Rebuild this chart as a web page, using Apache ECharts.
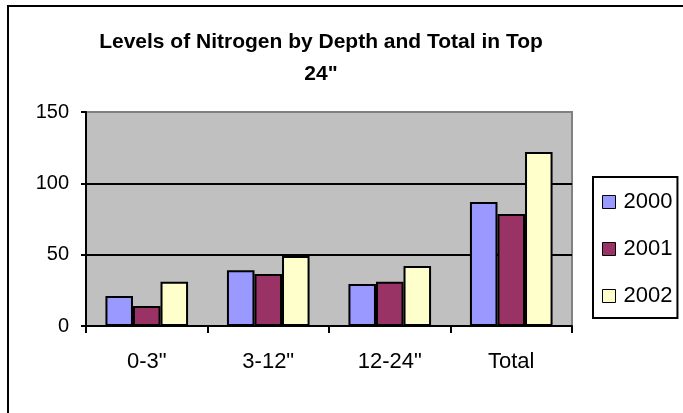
<!DOCTYPE html>
<html>
<head>
<meta charset="utf-8">
<script src="https://cdn.jsdelivr.net/npm/echarts@6/dist/echarts.min.js"></script>
<style>
  html, body { margin: 0; padding: 0; background: #fff; }
  #chart { width: 683px; height: 413px; }
</style>
</head>
<body>
<div id="chart"></div>
<script>
  // data
  var categories = ['0-3"', '3-12"', '12-24"', 'Total'];
  var years = ['2000', '2001', '2002'];
  var n2000 = [21, 39, 29.5, 87];
  var n2001 = [14, 36.5, 31, 78.5];
  var n2002 = [31, 49, 42, 122];
  var yTicks = [0, 50, 100, 150];

  var colors = ['#9999FF', '#993366', '#FFFFCC'];
  var font = 'Arial, "Liberation Sans", sans-serif';

  var myChart = echarts.init(document.getElementById('chart'));

  function makeSeries(name, data) {
    return {
      name: name,
      type: 'bar',
      barGap: 0,
      barCategoryGap: '32%',
      itemStyle: { borderColor: '#000', borderWidth: 2 },
      data: data
    };
  }

  myChart.setOption({
    animation: false,
    color: colors,
    // outer chart frame (only top and left edges are visible in the picture)
    graphic: [{
      type: 'rect',
      shape: { x: 8, y: 6, width: 720, height: 460 },
      style: { fill: 'none', stroke: '#000', lineWidth: 2 },
      z: 100
    }],
    title: {
      text: 'Levels of Nitrogen by Depth and Total in Top\n24"',
      left: 316,
      top: 21,
      textAlign: 'center',
      textStyle: {
        fontFamily: font,
        fontSize: 21,
        fontWeight: 'bold',
        color: '#000',
        lineHeight: 32
      }
    },
    legend: {
      orient: 'vertical',
      left: 593,
      top: 177,
      padding: [14, 5, 11, 9],
      itemGap: 25,
      itemWidth: 13,
      itemHeight: 13,
      icon: 'rect',
      borderColor: '#000',
      borderWidth: 2,
      itemStyle: { borderColor: '#000', borderWidth: 1 },
      textStyle: { fontFamily: font, fontSize: 22, color: '#000', padding: [0, 0, 0, 3] },
      data: years
    },
    grid: {
      left: 86,
      right: 111,
      top: 112,
      bottom: 87,
      show: true,
      backgroundColor: '#C0C0C0',
      borderColor: '#808080',
      borderWidth: 2
    },
    xAxis: {
      type: 'category',
      data: categories,
      axisLine: { show: true, lineStyle: { color: '#000', width: 2 } },
      axisTick: { show: true, length: 7, lineStyle: { color: '#000', width: 2 } },
      axisLabel: { fontFamily: font, fontSize: 22, color: '#000', margin: 25 }
    },
    yAxis: {
      type: 'value',
      min: yTicks[0],
      max: yTicks[yTicks.length - 1],
      interval: 50,
      axisLine: { show: true, lineStyle: { color: '#000', width: 2 } },
      axisTick: { show: true, length: 5, lineStyle: { color: '#000', width: 2 } },
      axisLabel: { fontFamily: font, fontSize: 20, color: '#000', margin: 17 },
      splitLine: { lineStyle: { color: ['#000', '#000', '#000', '#808080'], width: 2 } }
    },
    series: [
      makeSeries(years[0], n2000),
      makeSeries(years[1], n2001),
      makeSeries(years[2], n2002)
    ]
  });
</script>
</body>
</html>
